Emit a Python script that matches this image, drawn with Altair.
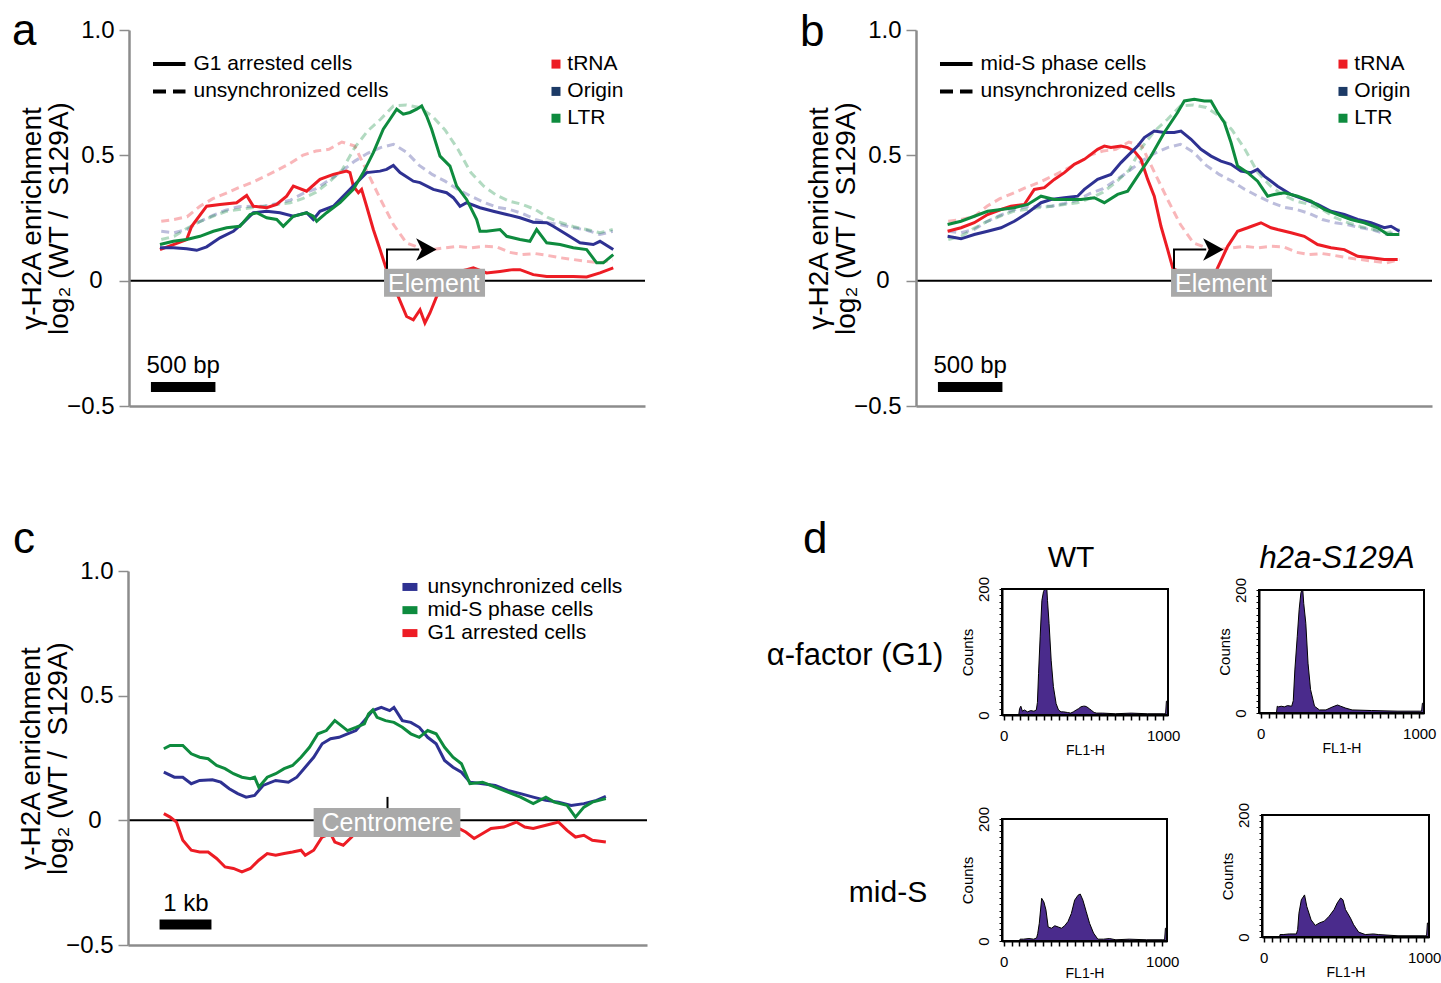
import altair as alt
import pandas as pd

FONT = "Liberation Sans"
W, H = 1441, 983

RED = "#ED1C24"
BLUE = "#2E3192"
GREEN = "#0E8B3E"
NAVY = "#1C3A66"
AXIS_GREY = "#8C8C8C"
BOX_GREY = "#A9A9A9"
PURPLE = "#4A2B8C"

# ---------------- panel a : G1 arrested cells (bp relative to element) ----------------
A_TRNA_BP = [-1760, -1656, -1553, -1514, -1398, -1295, -1166, -1088, -1036, -933,
             -856, -778, -726, -623, -520, -416, -313, -287, -261, -222,
             -197, -158, -106, -54, -3, 75, 152, 204, 256, 294,
             333, 385, 462, 514, 617, 669, 772, 876, 979, 1031,
             1134, 1238, 1341, 1444, 1548, 1651, 1754]
A_TRNA_G1 = [0.124, 0.144, 0.164, 0.217, 0.297, 0.304, 0.311, 0.34, 0.297, 0.291,
             0.304, 0.337, 0.377, 0.357, 0.404, 0.424, 0.437, 0.431, 0.377, 0.351,
             0.364, 0.297, 0.204, 0.124, 0.044, -0.049, -0.143, -0.156, -0.116, -0.169,
             -0.129, -0.063, -0.009, 0.031, 0.044, 0.051, 0.031, 0.037, 0.044, 0.044,
             0.024, 0.017, 0.017, 0.017, 0.015, 0.031, 0.051]
A_ORIGIN_BP = [-1760, -1656, -1553, -1475, -1398, -1295, -1191, -1114, -1036, -933,
               -830, -726, -623, -571, -520, -416, -313, -235, -158, -54,
               -3, 49, 101, 204, 256, 359, 462, 514, 566, 617,
               721, 824, 928, 1031, 1134, 1238, 1289, 1393, 1496, 1599,
               1651, 1754]
A_ORIGIN_G1 = [0.131, 0.131, 0.127, 0.121, 0.135, 0.171, 0.197, 0.231, 0.271, 0.277,
               0.271, 0.257, 0.271, 0.244, 0.277, 0.297, 0.351, 0.391, 0.431, 0.437,
               0.444, 0.46, 0.431, 0.397, 0.391, 0.364, 0.351, 0.331, 0.297, 0.311,
               0.291, 0.277, 0.264, 0.251, 0.233, 0.231, 0.217, 0.184, 0.151, 0.144,
               0.157, 0.124]
A_LTR_BP = [-1760, -1656, -1553, -1450, -1346, -1243, -1140, -1062, -1010, -933,
            -855, -804, -726, -623, -571, -545, -468, -364, -261, -184,
            -106, -29, 23, 75, 126, 178, 230, 269, 307, 346,
            411, 488, 540, 617, 695, 721, 772, 876, 928, 1031,
            1108, 1160, 1238, 1341, 1444, 1548, 1625, 1677, 1754]
A_LTR_G1 = [0.144, 0.157, 0.164, 0.177, 0.197, 0.211, 0.217, 0.264, 0.271, 0.251,
            0.244, 0.217, 0.257, 0.271, 0.257, 0.237, 0.271, 0.311, 0.364, 0.431,
            0.511, 0.604, 0.644, 0.684, 0.664, 0.671, 0.684, 0.697, 0.657, 0.604,
            0.497, 0.457, 0.377, 0.324, 0.244, 0.197, 0.197, 0.204, 0.177, 0.164,
            0.157, 0.204, 0.151, 0.144, 0.131, 0.124, 0.071, 0.071, 0.104]

# ---------------- unsynchronized cells (shown dashed in a and b) ----------------
BP_UNSYNC = list(range(-1750, 1751, 100))
UNSYNC_TRNA = [0.237, 0.244, 0.255, 0.297, 0.327, 0.348, 0.371, 0.391, 0.415, 0.441,
               0.468, 0.501, 0.517, 0.524, 0.553, 0.537, 0.431, 0.324, 0.224, 0.151,
               0.131, 0.124, 0.131, 0.137, 0.131, 0.137, 0.135, 0.113, 0.104, 0.108,
               0.1, 0.091, 0.084, 0.077, 0.071, 0.084]
UNSYNC_ORIGIN = [0.197, 0.191, 0.204, 0.236, 0.26, 0.281, 0.295, 0.297, 0.297, 0.308,
                 0.321, 0.348, 0.367, 0.401, 0.437, 0.477, 0.508, 0.531, 0.544, 0.513,
                 0.46, 0.424, 0.397, 0.364, 0.337, 0.313, 0.293, 0.284, 0.268, 0.244,
                 0.231, 0.223, 0.211, 0.201, 0.184, 0.197]
UNSYNC_LTR = [0.164, 0.177, 0.209, 0.236, 0.257, 0.276, 0.284, 0.291, 0.297, 0.304,
              0.311, 0.328, 0.353, 0.393, 0.44, 0.531, 0.597, 0.644, 0.697, 0.701,
              0.691, 0.657, 0.601, 0.524, 0.431, 0.377, 0.34, 0.317, 0.304, 0.284,
              0.251, 0.231, 0.215, 0.204, 0.191, 0.204]

# ---------------- panel b : mid-S phase cells ----------------
B_TRNA_BP = [-1755, -1651, -1548, -1445, -1341, -1264, -1160, -1083, -1005, -928,
             -850, -773, -695, -644, -592, -540, -489, -411, -359, -308,
             -256, -204, -153, -101, -49, -10, 49, 150, 250, 338,
             416, 493, 571, 674, 752, 803, 907, 1010, 1113, 1217,
             1320, 1424, 1527, 1630, 1734]
B_TRNA_S = [0.197, 0.211, 0.231, 0.264, 0.284, 0.297, 0.304, 0.364, 0.371, 0.404,
            0.431, 0.464, 0.484, 0.504, 0.524, 0.537, 0.531, 0.537, 0.531, 0.517,
            0.484, 0.404, 0.337, 0.217, 0.124, 0.051, 0.031, -0.043, -0.049, 0.051,
            0.137, 0.197, 0.211, 0.231, 0.211, 0.204, 0.191, 0.177, 0.144, 0.131,
            0.124, 0.097, 0.091, 0.084, 0.084]
B_ORIGIN_BP = [-1755, -1651, -1548, -1445, -1341, -1238, -1134, -1031, -954, -850,
               -747, -695, -592, -489, -411, -334, -282, -230, -153, -75,
               2, 54, 132, 209, 287, 364, 442, 519, 597, 648,
               700, 803, 907, 1010, 1113, 1217, 1320, 1424, 1527, 1630,
               1682, 1747]
B_ORIGIN_S = [0.177, 0.167, 0.184, 0.197, 0.211, 0.237, 0.271, 0.311, 0.324, 0.331,
              0.337, 0.364, 0.404, 0.424, 0.471, 0.511, 0.537, 0.571, 0.597, 0.591,
              0.591, 0.597, 0.564, 0.524, 0.497, 0.477, 0.464, 0.437, 0.431, 0.444,
              0.417, 0.377, 0.344, 0.324, 0.304, 0.277, 0.264, 0.244, 0.231, 0.211,
              0.217, 0.197]
B_LTR_BP = [-1755, -1651, -1548, -1445, -1341, -1238, -1134, -1031, -928, -824,
            -721, -618, -540, -437, -359, -282, -178, -75, 28, 80,
            157, 235, 287, 338, 390, 442, 493, 571, 648, 726,
            777, 855, 958, 1062, 1165, 1269, 1372, 1475, 1579, 1656,
            1747]
B_LTR_S = [0.224, 0.237, 0.257, 0.277, 0.284, 0.291, 0.304, 0.337, 0.324, 0.324,
           0.324, 0.331, 0.311, 0.344, 0.357, 0.417, 0.497, 0.591, 0.671, 0.717,
           0.724, 0.717, 0.717, 0.671, 0.631, 0.551, 0.457, 0.431, 0.397, 0.337,
           0.344, 0.351, 0.337, 0.317, 0.284, 0.264, 0.244, 0.231, 0.211, 0.184,
           0.184]

ELEMENTS = ["tRNA", "Origin", "LTR"]
LINE_COLORS = [RED, BLUE, GREEN]
KEY_COLORS = [RED, NAVY, GREEN]

# ---------------- panel c : position relative to centromere (bp) ----------------
C_UNSYNC_BP = [-4310, -4107, -3944, -3781, -3619, -3374, -3212, -3049, -2886, -2724,
               -2561, -2398, -2154, -1910, -1747, -1585, -1422, -1259, -1097, -934,
               -771, -609, -446, -283, -120, 42, 124, 286, 449, 612,
               774, 937, 1100, 1262, 1425, 1588, 1832, 2076, 2320, 2564,
               2808, 3052, 3296, 3540, 3784, 4028, 4207]
C_UNSYNC = [0.193, 0.173, 0.173, 0.147, 0.16, 0.163, 0.153, 0.127, 0.107, 0.093,
            0.1, 0.14, 0.16, 0.153, 0.173, 0.213, 0.253, 0.307, 0.327, 0.333,
            0.347, 0.36, 0.4, 0.44, 0.453, 0.44, 0.453, 0.4, 0.393, 0.373,
            0.333, 0.307, 0.24, 0.213, 0.193, 0.153, 0.147, 0.14, 0.12, 0.107,
            0.093, 0.08, 0.073, 0.06, 0.067, 0.08, 0.096]
C_MIDS_BP = [-4310, -4188, -3944, -3781, -3619, -3456, -3293, -3130, -2968, -2805,
             -2642, -2561, -2480, -2317, -2154, -1992, -1829, -1666, -1503, -1341,
             -1178, -1015, -934, -771, -609, -446, -365, -283, -202, -39,
             124, 286, 449, 612, 774, 937, 1100, 1262, 1425, 1588,
             1832, 2076, 2320, 2564, 2808, 3052, 3215, 3459, 3622, 3784,
             3947, 4207]
C_MIDS = [0.287, 0.3, 0.3, 0.267, 0.253, 0.247, 0.22, 0.207, 0.187, 0.173,
          0.167, 0.173, 0.133, 0.173, 0.187, 0.207, 0.22, 0.253, 0.293, 0.347,
          0.36, 0.4, 0.387, 0.36, 0.373, 0.387, 0.427, 0.443, 0.413, 0.4,
          0.393, 0.373, 0.347, 0.333, 0.36, 0.347, 0.293, 0.253, 0.227, 0.147,
          0.153, 0.133, 0.113, 0.093, 0.067, 0.093, 0.073, 0.06, 0.013, 0.053,
          0.073, 0.087]
C_G1_BP = [-4310, -4188, -4066, -3944, -3781, -3619, -3456, -3293, -3130, -2968,
           -2805, -2642, -2480, -2317, -2154, -1992, -1829, -1666, -1585, -1422,
           -1259, -1097, -1015, -853, -690, -609, -250, 0, 250, 500,
           750, 1000, 1250, 1384, 1507, 1669, 1832, 1995, 2239, 2483,
           2645, 2808, 3052, 3296, 3459, 3622, 3784, 3947, 4207]
C_G1 = [0.027, 0.013, -0.007, -0.08, -0.12, -0.127, -0.127, -0.153, -0.187, -0.193,
        -0.207, -0.193, -0.16, -0.133, -0.14, -0.133, -0.127, -0.12, -0.14, -0.12,
        -0.067, -0.053, -0.087, -0.1, -0.067, -0.047, -0.013, 0.013, 0.02, 0.016,
        0.02, -0.007, -0.027, -0.033, -0.047, -0.073, -0.053, -0.033, -0.027, -0.007,
        -0.027, -0.033, -0.02, -0.007, -0.04, -0.067, -0.06, -0.08, -0.087]
C_NAMES = ["unsynchronized cells", "mid-S phase cells", "G1 arrested cells"]
C_COLORS = [BLUE, GREEN, RED]

# ---------------- panel d : FACS histograms (FL1-H channel vs counts) ----------------
H1_X = [0, 95, 100, 108, 118, 130, 150, 170, 190, 205, 212, 219, 229, 240, 250, 258, 265, 271, 275, 285,
        298, 312, 329, 344, 360, 375, 400, 420, 437, 455, 469, 485, 500, 510, 521, 537, 552, 567, 583, 620,
        700, 800, 900, 1000, 1015, 1020, 1023]
H1_Y = [0, 0, 10, 14, 6, 8, 5, 7, 6, 8, 20, 66, 124, 182, 196, 220, 220, 210, 182, 145,
        87, 45, 18, 8, 5, 5, 4, 3, 5, 8, 10, 13, 14, 14, 13, 10, 7, 4, 3, 3,
        2, 3, 2, 2, 2, 22, 22]
H2_X = [0, 100, 105, 113, 130, 150, 170, 196, 206, 216, 231, 243, 254, 260, 266, 272, 285, 299, 315, 340,
        371, 412, 454, 485, 505, 536, 577, 700, 866, 1000, 1015, 1020, 1023]
H2_Y = [0, 0, 11, 10, 11, 10, 12, 11, 20, 70, 124, 168, 195, 215, 205, 178, 146, 81, 38, 11,
        5, 5, 10, 13, 11, 8, 5, 4, 3, 3, 3, 16, 16]
H3_X = [0, 100, 104, 125, 160, 190, 208, 215, 225, 240, 254, 267, 281, 302, 323, 344, 365, 385, 406, 427,
        448, 469, 483, 500, 521, 542, 567, 594, 630, 667, 708, 792, 900, 1000, 1015, 1020, 1023]
H3_Y = [0, 0, 3, 3, 4, 3, 5, 12, 29, 70, 64, 51, 23, 21, 25, 23, 21, 25, 32, 45,
        67, 75, 77, 67, 48, 29, 13, 3, 3, 4, 2, 3, 2, 2, 2, 21, 21]
H4_X = [0, 100, 102, 122, 160, 204, 212, 220, 235, 255, 269, 296, 322, 347, 378, 408, 439, 459, 480, 494,
        510, 541, 561, 592, 633, 684, 714, 837, 1000, 1015, 1020, 1023]
H4_Y = [0, 0, 4, 4, 5, 5, 12, 39, 61, 69, 50, 28, 19, 23, 26, 34, 45, 56, 64, 61,
        45, 31, 20, 8, 4, 5, 4, 2, 2, 2, 23, 23]

Y_TITLE = ["\u03b3-H2A enrichment", "log\u2082 (WT /\u00a0 S129A)"]


def long_df(pairs, names, colors):
    rows = []
    for (bp, vals), name, col in zip(pairs, names, colors):
        for b, v in zip(bp, vals):
            rows.append({"bp": b, "v": v, "s": name, "c": col})
    return pd.DataFrame(rows)


def main_y_axis(x0, ymid):
    return alt.Axis(orient="left", offset=-x0, values=[-0.5, 0, 0.5, 1.0], zindex=2,
                    labelExpr="datum.value == 0 ? '0' : format(datum.value, '.1f')",
                    labelFont=FONT, labelFontSize=24, labelColor="black",
                    labelPadding={"condition": {"test": "datum.value == 0", "value": 17}, "value": 5},
                    labelFlush=False, labelOverlap=False, labelBound=False,
                    tickSize=10, tickWidth=1.5, tickColor=AXIS_GREY,
                    domainColor=AXIS_GREY, domainWidth=2.5, grid=False,
                    title=Y_TITLE,
                    titleFont=FONT, titleFontSize=28, titleFontWeight="normal", titleColor="black",
                    titleAngle=270, titleAlign="center", titleBaseline="alphabetic",
                    titleLineHeight=27, titleX=-89, titleY=ymid)


def main_x_axis(ybottom):
    return alt.Axis(orient="bottom", offset=ybottom - H, labels=False, ticks=False, zindex=2,
                    domainColor=AXIS_GREY, domainWidth=2.5, grid=False, title=None)


def text_layer(df, xs, ys, **mk):
    return alt.Chart(df).mark_text(font=FONT, **mk).encode(
        x=alt.X("x:Q", scale=xs, axis=None), y=alt.Y("y:Q", scale=ys, axis=None), text="t:N")


def element_panel(x0, x1, solid_df, solid_label):
    ytop, ybot = 30, 406
    xs = alt.Scale(domain=[-2000, 2000], range=[x0, x1], nice=False, zero=False)
    ys = alt.Scale(domain=[-0.5, 1.0], range=[ybot, ytop], nice=False, zero=False)

    def X(f, axis=None):
        return alt.X(f, type="quantitative", scale=xs, axis=axis)

    def Y(f, axis=None):
        return alt.Y(f, type="quantitative", scale=ys, axis=axis)

    zero = alt.Chart(pd.DataFrame({"x": [-2000], "x2": [2000], "y": [0.0]})).mark_rule(
        color="black", strokeWidth=2).encode(
        x=X("x", main_x_axis(ybot)), x2=alt.X2("x2"), y=Y("y", main_y_axis(x0, (ytop + ybot) / 2)))

    unsync_df = long_df([(BP_UNSYNC, UNSYNC_TRNA), (BP_UNSYNC, UNSYNC_ORIGIN), (BP_UNSYNC, UNSYNC_LTR)],
                        ELEMENTS, LINE_COLORS)
    dashed = alt.Chart(unsync_df).mark_line(strokeWidth=3, strokeDash=[8, 5], opacity=0.32).encode(
        x=X("bp"), y=Y("v"), color=alt.Color("c:N", scale=None), detail="s:N")
    solid = alt.Chart(solid_df).mark_line(strokeWidth=3).encode(
        x=X("bp"), y=Y("v"), color=alt.Color("c:N", scale=None), detail="s:N")

    box = alt.Chart(pd.DataFrame({"x": [-23], "x2": [760], "y": [0.048], "y2": [-0.064]})).mark_rect(
        color=BOX_GREY).encode(x=X("x"), x2=alt.X2("x2"), y=Y("y"), y2=alt.Y2("y2"))
    box_txt = text_layer(pd.DataFrame({"x": [364], "y": [-0.012], "t": ["Element"]}), xs, ys,
                         color="white", fontSize=25, align="center", baseline="middle")

    arrow = alt.Chart(pd.DataFrame({"x": [0, 0, 250], "y": [0.048, 0.124, 0.124], "o": [0, 1, 2]})).mark_line(
        color="black", strokeWidth=2).encode(x=X("x"), y=Y("y"), order=alt.Order("o:Q"))
    head = alt.Chart(pd.DataFrame({"x": [305], "y": [0.124]})).mark_point(
        shape="M-1,-1.1L1,0L-1,1.1L-0.45,0Z", filled=True, color="black", opacity=1, size=420).encode(
        x=X("x"), y=Y("y"))

    bar = alt.Chart(pd.DataFrame({"x": [-1830], "x2": [-1330], "y": [-0.424]})).mark_rule(
        color="black", strokeWidth=10).encode(x=X("x"), x2=alt.X2("x2"), y=Y("y"))
    bar_txt = text_layer(pd.DataFrame({"x": [-1580], "y": [-0.37], "t": ["500 bp"]}), xs, ys,
                         color="black", fontSize=24, align="center", baseline="alphabetic")

    key_solid = alt.Chart(pd.DataFrame({"x": [-1814], "x2": [-1562], "y": [0.864]})).mark_rule(
        color="black", strokeWidth=4).encode(x=X("x"), x2=alt.X2("x2"), y=Y("y"))
    key_dash = alt.Chart(pd.DataFrame({"x": [-1814], "x2": [-1562], "y": [0.755]})).mark_rule(
        color="black", strokeWidth=4, strokeDash=[13, 7]).encode(x=X("x"), x2=alt.X2("x2"), y=Y("y"))
    key_txt = text_layer(pd.DataFrame({"x": [-1500, -1500], "y": [0.864, 0.755],
                                       "t": [solid_label, "unsynchronized cells"]}), xs, ys,
                         color="black", fontSize=21, align="left", baseline="middle")
    sq = alt.Chart(pd.DataFrame({"x": [1310] * 3, "y": [0.864, 0.755, 0.648], "c": KEY_COLORS})).mark_square(
        size=81, opacity=1).encode(x=X("x"), y=Y("y"), color=alt.Color("c:N", scale=None))
    sq_txt = text_layer(pd.DataFrame({"x": [1398] * 3, "y": [0.864, 0.755, 0.648], "t": ELEMENTS}), xs, ys,
                        color="black", fontSize=21, align="left", baseline="middle")

    return [zero, dashed, solid, box, box_txt, arrow, head, bar, bar_txt,
            key_solid, key_dash, key_txt, sq, sq_txt]


def centromere_panel(x0, x1, ytop, ybot):
    xs = alt.Scale(domain=[-5000, 5000], range=[x0, x1], nice=False, zero=False)
    ys = alt.Scale(domain=[-0.5, 1.0], range=[ybot, ytop], nice=False, zero=False)

    def X(f, axis=None):
        return alt.X(f, type="quantitative", scale=xs, axis=axis)

    def Y(f, axis=None):
        return alt.Y(f, type="quantitative", scale=ys, axis=axis)

    zero = alt.Chart(pd.DataFrame({"x": [-5000], "x2": [5000], "y": [0.0]})).mark_rule(
        color="black", strokeWidth=2).encode(
        x=X("x", main_x_axis(ybot)), x2=alt.X2("x2"), y=Y("y", main_y_axis(x0, (ytop + ybot) / 2)))
    df = long_df([(C_UNSYNC_BP, C_UNSYNC), (C_MIDS_BP, C_MIDS), (C_G1_BP, C_G1)], C_NAMES, C_COLORS)
    lines = alt.Chart(df).mark_line(strokeWidth=3).encode(
        x=X("bp"), y=Y("v"), color=alt.Color("c:N", scale=None), detail="s:N")
    box = alt.Chart(pd.DataFrame({"x": [-1423], "x2": [1404], "y": [0.049], "y2": [-0.067]})).mark_rect(
        color=BOX_GREY).encode(x=X("x"), x2=alt.X2("x2"), y=Y("y"), y2=alt.Y2("y2"))
    box_txt = text_layer(pd.DataFrame({"x": [0], "y": [-0.01], "t": ["Centromere"]}), xs, ys,
                         color="white", fontSize=25, align="center", baseline="middle")
    tick = alt.Chart(pd.DataFrame({"x": [0], "y": [0.049], "y2": [0.094]})).mark_rule(
        color="black", strokeWidth=2).encode(x=X("x"), y=Y("y"), y2=alt.Y2("y2"))
    bar = alt.Chart(pd.DataFrame({"x": [-4392], "x2": [-3392], "y": [-0.418]})).mark_rule(
        color="black", strokeWidth=10).encode(x=X("x"), x2=alt.X2("x2"), y=Y("y"))
    bar_txt = text_layer(pd.DataFrame({"x": [-3885], "y": [-0.362], "t": ["1 kb"]}), xs, ys,
                         color="black", fontSize=24, align="center", baseline="alphabetic")
    keys = alt.Chart(pd.DataFrame({"x": [288] * 3, "x2": [577] * 3,
                                   "y": [0.952, 0.859, 0.767], "y2": [0.92, 0.827, 0.735],
                                   "c": C_COLORS})).mark_rect().encode(
        x=X("x"), x2=alt.X2("x2"), y=Y("y"), y2=alt.Y2("y2"), color=alt.Color("c:N", scale=None))
    key_txt = text_layer(pd.DataFrame({"x": [769] * 3, "y": [0.936, 0.843, 0.751], "t": C_NAMES}), xs, ys,
                         color="black", fontSize=21, align="left", baseline="middle")
    return [zero, lines, box, box_txt, tick, bar, bar_txt, keys, key_txt]


def histogram(xv, yv, x0, x1, ytop, ybot, title_dy):
    xs = alt.Scale(domain=[-10, 1030], range=[x0, x1], nice=False, zero=False)
    ys = alt.Scale(domain=[0, 200], range=[ybot, ytop], nice=False, zero=False, clamp=True)
    yax = alt.Axis(orient="left", offset=-x0, values=list(range(0, 201, 10)), format="d", zindex=2,
                   labelExpr="datum.value == 0 || datum.value == 200 ? datum.label : ''",
                   labelAngle=270, labelAlign="center", labelBaseline="bottom",
                   labelFont=FONT, labelFontSize=15, labelColor="black", labelPadding=8,
                   labelFlush=False, labelOverlap=False, labelBound=False,
                   tickSize=3, tickColor="black", tickWidth=1, domainColor="black", domainWidth=2,
                   grid=False, title="Counts", titleFont=FONT, titleFontSize=15, titleFontWeight="normal",
                   titleColor="black", titleAngle=270, titleAlign="center", titleBaseline="middle",
                   titleX=-35, titleY=(ytop + ybot) / 2)
    xax = alt.Axis(orient="bottom", offset=ybot - H, values=list(range(0, 1001, 50)), format="d", zindex=2,
                   labelExpr="datum.value == 0 || datum.value == 1000 ? datum.label : ''",
                   labelFont=FONT, labelFontSize=15, labelColor="black", labelPadding=8,
                   labelFlush=False, labelOverlap=False, labelBound=False,
                   tickSize=5, tickColor="black", tickWidth=1.5, domainColor="black", domainWidth=2,
                   grid=False, title="FL1-H", titleFont=FONT, titleFontSize=14, titleFontWeight="normal",
                   titleColor="black", titleAlign="center", titleBaseline="middle",
                   titleX=(x0 + x1) / 2, titleY=title_dy)
    df = pd.DataFrame({"fl": xv, "n": yv, "z": [0] * len(xv)})
    area = alt.Chart(df).mark_area(color=PURPLE, opacity=1,
                                   line={"color": "black", "strokeWidth": 1}).encode(
        x=alt.X("fl:Q", scale=xs, axis=xax), y=alt.Y("n:Q", scale=ys, axis=yax), y2=alt.Y2("z"))
    frame = alt.Chart(pd.DataFrame({"x": [-10], "x2": [1030], "y": [0], "y2": [200]})).mark_rect(
        fillOpacity=0, stroke="black", strokeWidth=2).encode(
        x=alt.X("x:Q", scale=xs, axis=None), x2=alt.X2("x2"),
        y=alt.Y("y:Q", scale=ys, axis=None), y2=alt.Y2("y2"))
    return [area, frame]


def pixel_text(df, **mk):
    return alt.Chart(df).mark_text(font=FONT, color="black", **mk).encode(
        x=alt.X("x:Q", scale=None, axis=None), y=alt.Y("y:Q", scale=None, axis=None), text="t:N")


layers = []
layers += element_panel(129, 645, long_df([(A_TRNA_BP, A_TRNA_G1), (A_ORIGIN_BP, A_ORIGIN_G1),
                                           (A_LTR_BP, A_LTR_G1)], ELEMENTS, LINE_COLORS),
                        "G1 arrested cells")
layers += element_panel(916, 1432, long_df([(B_TRNA_BP, B_TRNA_S), (B_ORIGIN_BP, B_ORIGIN_S),
                                            (B_LTR_BP, B_LTR_S)], ELEMENTS, LINE_COLORS),
                        "mid-S phase cells")
layers += centromere_panel(128, 647, 571, 945)
layers += histogram(H1_X, H1_Y, 1002, 1168, 589, 715, 35)
layers += histogram(H2_X, H2_Y, 1259, 1424, 590, 713, 35)
layers += histogram(H3_X, H3_Y, 1002, 1167, 819, 941, 32)
layers += histogram(H4_X, H4_Y, 1262, 1429, 815, 937, 35)

layers.append(pixel_text(pd.DataFrame({"t": ["a", "b", "c", "d"], "x": [12, 800, 13, 803],
                                       "y": [45, 46, 553, 553]}),
                         fontSize=44, align="left", baseline="alphabetic"))
layers.append(pixel_text(pd.DataFrame({"t": ["WT", "mid-S"], "x": [1071, 888], "y": [558, 893]}),
                         fontSize=30, align="center", baseline="middle"))
layers.append(pixel_text(pd.DataFrame({"t": ["\u03b1-factor (G1)"], "x": [855], "y": [656]}),
                         fontSize=31, align="center", baseline="middle"))
layers.append(pixel_text(pd.DataFrame({"t": ["h2a-S129A"], "x": [1337], "y": [559]}),
                         fontSize=31, fontStyle="italic", align="center", baseline="middle"))

chart = alt.layer(*layers).resolve_scale(
    x="independent", y="independent").resolve_axis(x="independent", y="independent").properties(
    width=W, height=H, padding=0, autosize=alt.AutoSizeParams(type="none"), background="white"
).configure(font=FONT).configure_view(stroke=None)

chart.save("out.html", embed_options={"renderer": "svg", "actions": False})
